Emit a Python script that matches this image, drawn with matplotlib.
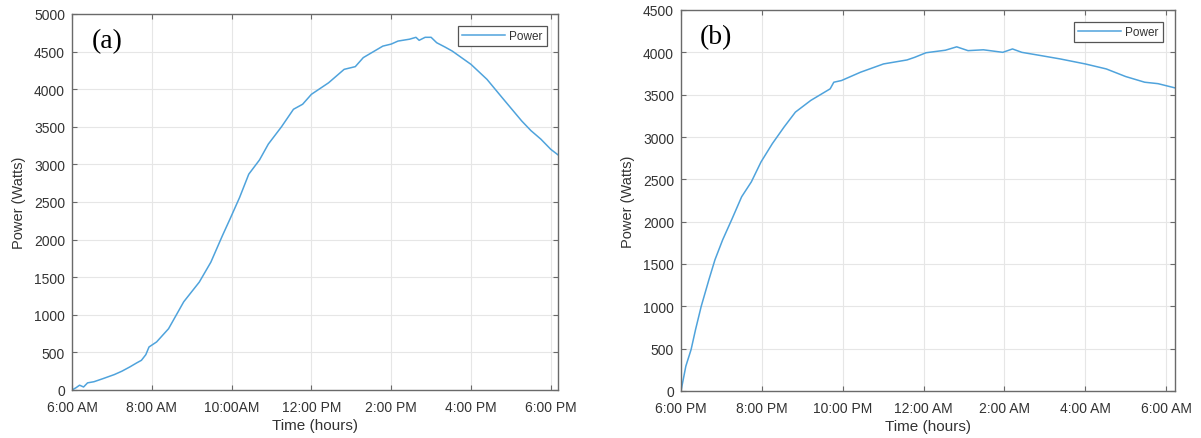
import matplotlib
matplotlib.use("Agg")
import matplotlib.pyplot as plt

# ---- Data (hours since midnight; right panel continues past 24) ----
time_a = [6.00, 6.10, 6.19, 6.29, 6.39, 6.55, 6.77, 7.06, 7.25, 7.45, 7.62, 7.74,
          7.85, 7.93, 8.12, 8.42, 8.80, 9.19, 9.48, 9.77, 9.96, 10.20, 10.43,
          10.70, 10.92, 11.25, 11.55, 11.78, 12.00, 12.43, 12.82, 13.10, 13.30,
          13.79, 14.00, 14.17, 14.46, 14.62, 14.70, 14.85, 15.00, 15.14, 15.35,
          15.53, 16.00, 16.40, 16.78, 17.27, 17.50, 17.75, 18.00, 18.18]
power_a = [0, 30, 64, 40, 95, 110, 150, 205, 250, 307, 360, 395,
           470, 572, 639, 815, 1173, 1435, 1700, 2053, 2274, 2560, 2870,
           3060, 3270, 3500, 3733, 3800, 3932, 4085, 4264, 4300, 4420,
           4573, 4600, 4640, 4665, 4690, 4650, 4690, 4690, 4618, 4560,
           4507, 4330, 4131, 3888, 3578, 3450, 3336, 3200, 3127]

time_b = [18.00, 18.12, 18.25, 18.36, 18.50, 18.69, 18.84, 19.03, 19.26, 19.50,
          19.74, 19.98, 20.26, 20.55, 20.83, 21.21, 21.69, 21.78, 21.97, 22.44,
          23.01, 23.59, 23.78, 24.06, 24.54, 24.82, 25.10, 25.48, 25.96, 26.20,
          26.43, 26.91, 27.38, 28.00, 28.52, 29.00, 29.47, 29.80, 30.22]
power_b = [0, 294, 490, 726, 1000, 1314, 1550, 1785, 2030, 2294,
           2470, 2706, 2922, 3118, 3294, 3432, 3569, 3647, 3667, 3765,
           3863, 3910, 3941, 3995, 4025, 4065, 4020, 4030, 4000, 4040,
           4000, 3961, 3922, 3863, 3804, 3714, 3647, 3630, 3580]

ticks_a = [6, 8, 10, 12, 14, 16, 18]
ticklabels_a = ["6:00 AM", "8:00 AM", "10:00AM", "12:00 PM", "2:00 PM", "4:00 PM", "6:00 PM"]
ticks_b = [18, 20, 22, 24, 26, 28, 30]
ticklabels_b = ["6:00 PM", "8:00 PM", "10:00 PM", "12:00 AM", "2:00 AM", "4:00 AM", "6:00 AM"]
yticks_a = list(range(0, 5001, 500))
yticks_b = list(range(0, 4501, 500))

plt.rcParams['font.family'] = ['Liberation Sans', 'DejaVu Sans']

W, H = 1201, 439
fig = plt.figure(figsize=(W / 100, H / 100), dpi=100)

line_color = '#4fa3dc'
spine_color = '#6a6a6a'
text_color = '#333333'


def px_axes(x0, y0, x1, y1):
    return fig.add_axes([x0 / W, 1 - y1 / H, (x1 - x0) / W, (y1 - y0) / H])


def style(ax, xt, xtl, yt, xlim, ylim, tag, tag_xy, leg_anchor, ylabel_x):
    ax.set_xlim(*xlim)
    ax.set_ylim(*ylim)
    ax.set_xticks(xt)
    ax.set_xticklabels(xtl)
    ax.set_yticks(yt)
    ax.set_yticklabels([str(v) for v in yt])
    ax.grid(True, color='#e6e6e6', linewidth=0.8)
    ax.set_axisbelow(True)
    for s in ax.spines.values():
        s.set_color(spine_color)
        s.set_linewidth(1.0)
    ax.tick_params(direction='in', length=3.5, width=0.8, color=spine_color,
                   top=True, right=True, labelsize=10, labelcolor=text_color)
    ax.tick_params(axis='x', pad=7)
    ax.tick_params(axis='y', pad=5)
    ax.set_xlabel("Time (hours)", fontsize=11, color=text_color, labelpad=3)
    ax.set_ylabel("Power (Watts)", fontsize=10.5, color=text_color)
    ax.yaxis.set_label_coords(ylabel_x, 0.5)
    ax.text(tag_xy[0], tag_xy[1], tag, transform=ax.transAxes,
            family='Liberation Serif', fontsize=20, ha='center', va='center', color='black')
    leg = ax.legend(loc='upper right', bbox_to_anchor=leg_anchor, borderaxespad=0,
                    fontsize=8.5, fancybox=False, framealpha=1, edgecolor='#555555',
                    handlelength=3.6, handletextpad=0.4, borderpad=0.35)
    leg.get_frame().set_linewidth(0.9)
    for t in leg.get_texts():
        t.set_color(text_color)


ax1 = px_axes(72, 15, 558, 391)
ax1.plot(time_a, power_a, color=line_color, linewidth=1.1, label='Power')
style(ax1, ticks_a, ticklabels_a, yticks_a, (6, 18.18), (0, 5000), '(a)',
      ((107 - 72) / 486, 1 - (42 - 15) / 376), (1 - 11 / 486, 1 - 12 / 376),
      -(72 - 26) / 486)

ax2 = px_axes(681, 11, 1175, 392)
ax2.plot(time_b, power_b, color=line_color, linewidth=1.1, label='Power')
style(ax2, ticks_b, ticklabels_b, yticks_b, (18, 30.22), (0, 4500), '(b)',
      ((716 - 681) / 494, 1 - (38 - 11) / 381), (1 - 12 / 494, 1 - 12 / 381),
      -(681 - 635) / 494)

fig.savefig("out.png", dpi=100)
